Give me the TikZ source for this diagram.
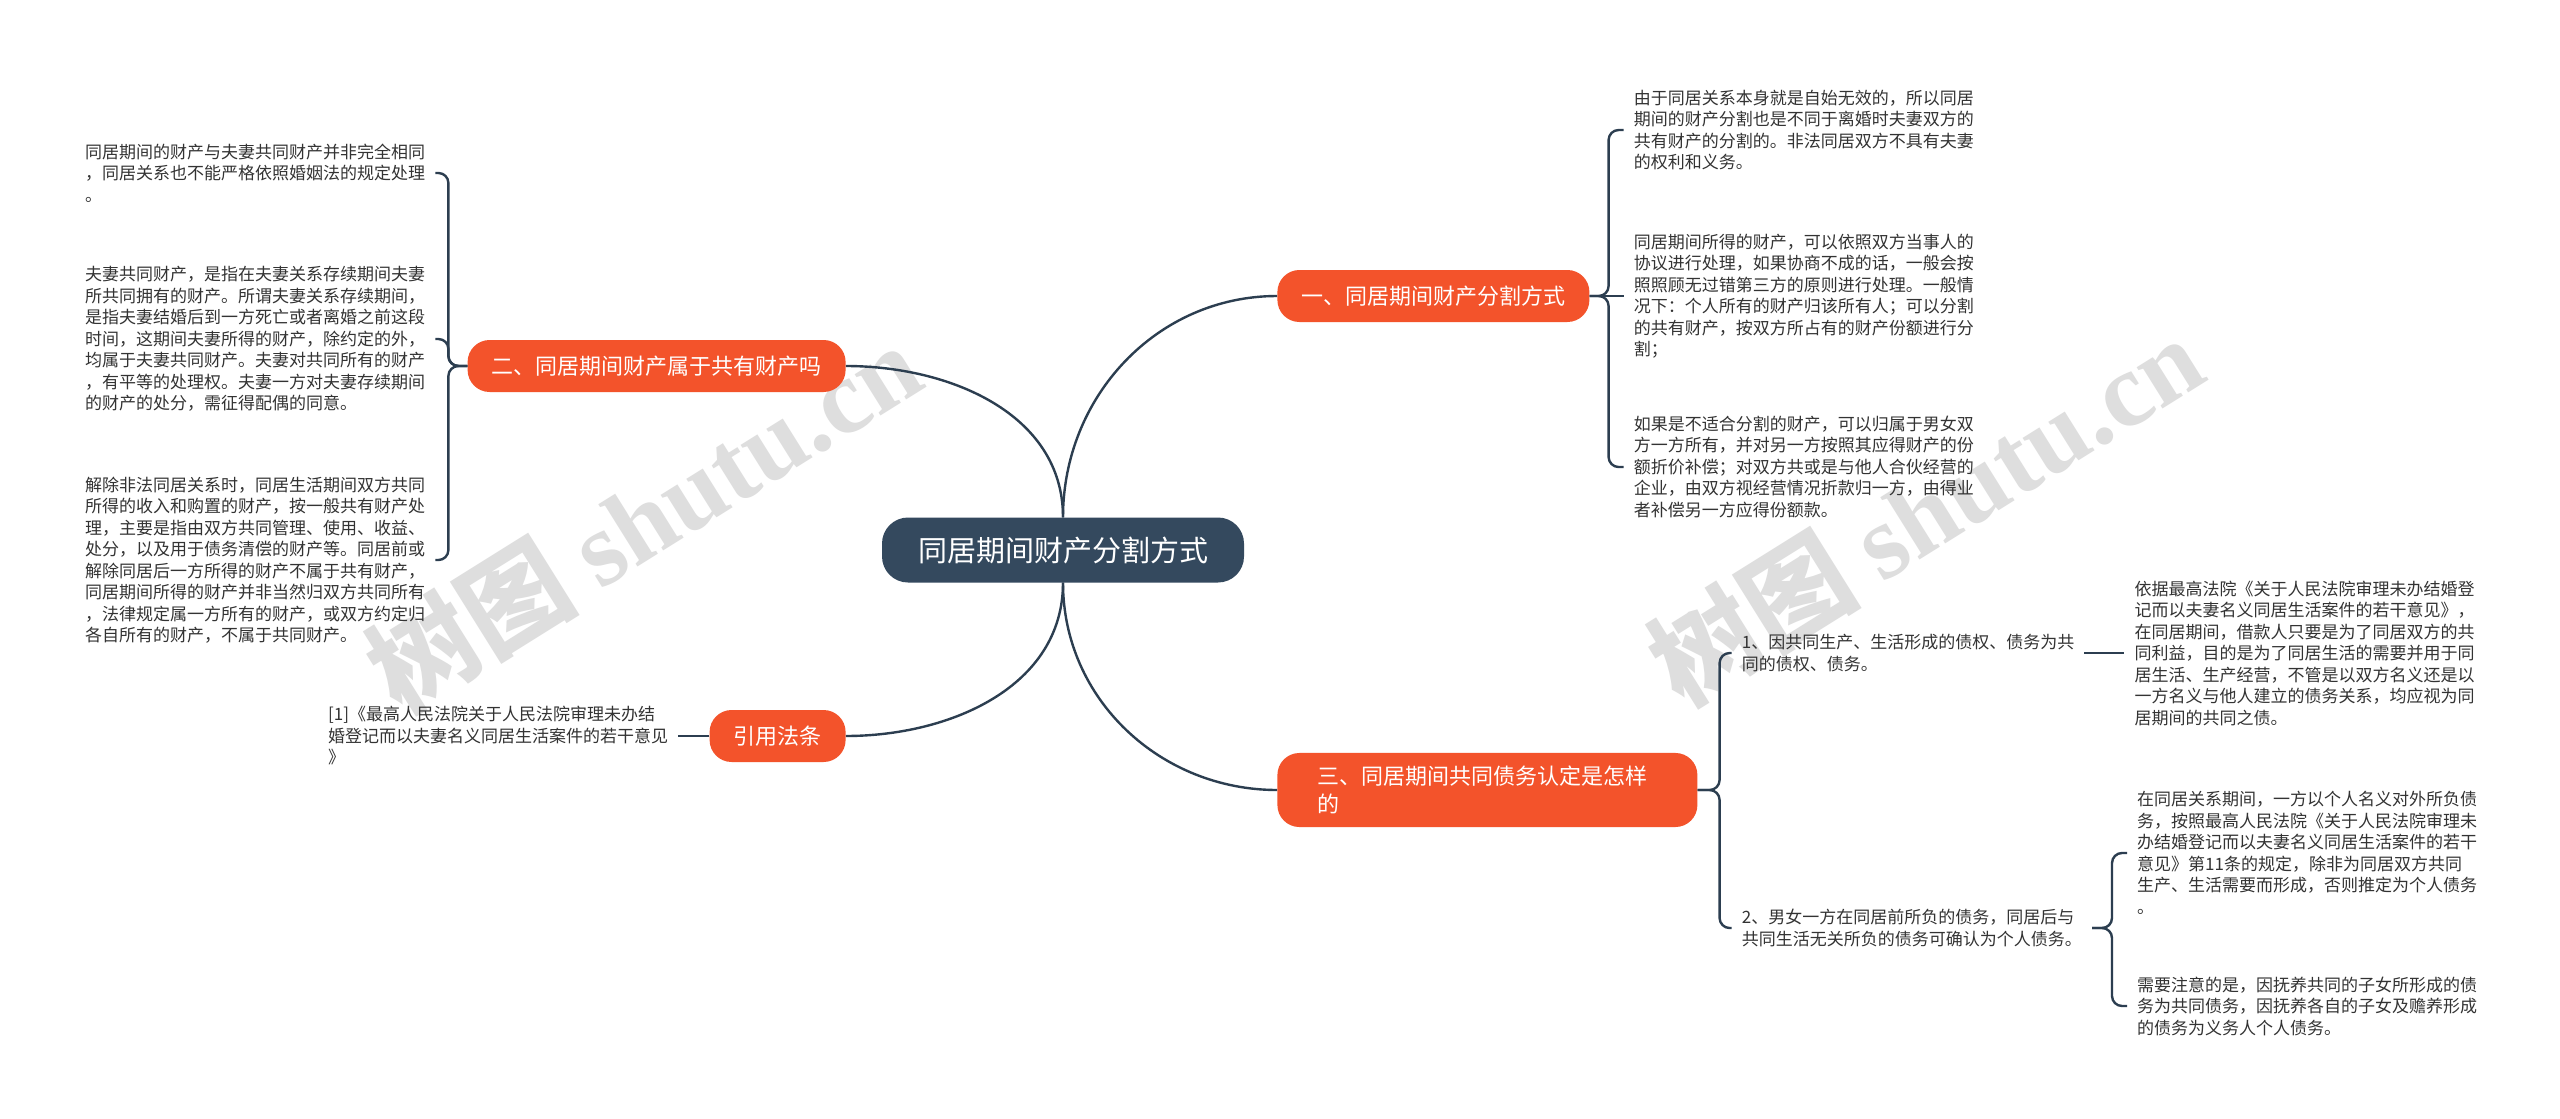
\documentclass[tikz,border=0pt]{standalone}
\usepackage{fontspec}
\usepackage{tikz}
\setmainfont{Noto Sans CJK SC}
\newfontfamily\wmlatin{Liberation Serif}
\usetikzlibrary{positioning}

\definecolor{rootc}{RGB}{52,73,94}
\definecolor{branchc}{RGB}{243,83,43}
\definecolor{linec}{RGB}{44,62,80}
\definecolor{leaftext}{RGB}{51,51,51}

\begin{document}
\begin{tikzpicture}[x=1pt,y=-1pt,node distance=33pt,
	hook/.style={to path={-- ++(#1,0) |- (\tikztotarget)},rounded corners=10pt},
	every edge/.append style={draw=linec,line width=2.4pt}]
	
	\tikzstyle{root}=[fill=rootc,text=white,rounded corners=26pt,minimum height=65pt,inner xsep=36pt,font=\fontsize{29}{35}\selectfont]
	\tikzstyle{branch}=[fill=branchc,text=white,rounded corners=22pt,minimum height=52pt,inner xsep=24pt,font=\fontsize{22}{28}\selectfont]
	\tikzstyle{leaf}=[text=leaftext,align=left,inner xsep=10pt,inner ysep=4pt,font=\fontsize{17}{21.5}\selectfont]
	\tikzstyle{watermark}=[text=black!13,font=\fontsize{106}{120}\selectfont\bfseries,rotate=32]
	
	\fill[white] (0,0) rectangle (2560,1119);
	
	\node (wm1) [watermark] at (643,517) {树图 {\wmlatin\bfseries shutu.cn}};
	\node (wm2) [watermark] at (1925,510) {树图 {\wmlatin\bfseries shutu.cn}};
	
	\node (cn) [root] at (1063,550) {同居期间财产分割方式};
	\node (b1) [branch, right=33pt of cn, yshift=254pt] {一、同居期间财产分割方式};
	\node (b2) [branch, left=36pt of cn, yshift=184pt]  {二、同居期间财产属于共有财产吗};
	\node (b3) [branch, right=33pt of cn, yshift=-240pt, text width=340pt, inner xsep=40pt, inner ysep=13pt, align=left] {三、同居期间共同债务认定是怎样\\的};
	\node (b4) [branch, left=36pt of cn, yshift=-186pt] {引用法条};
	
	\node (l1) [leaf, left=32pt of b2, yshift=193pt]  {同居期间的财产与夫妻共同财产并非完全相同\\，同居关系也不能严格依照婚姻法的规定处理\\。};
	\node (l2) [leaf, left=32pt of b2, yshift=27pt]   {夫妻共同财产，是指在夫妻关系存续期间夫妻\\所共同拥有的财产。所谓夫妻关系存续期间，\\是指夫妻结婚后到一方死亡或者离婚之前这段\\时间，这期间夫妻所得的财产，除约定的外，\\均属于夫妻共同财产。夫妻对共同所有的财产\\，有平等的处理权。夫妻一方对夫妻存续期间\\的财产的处分，需征得配偶的同意。};
	\node (l3) [leaf, left=32pt of b2, yshift=-194pt] {解除非法同居关系时，同居生活期间双方共同\\所得的收入和购置的财产，按一般共有财产处\\理，主要是指由双方共同管理、使用、收益、\\处分，以及用于债务清偿的财产等。同居前或\\解除同居后一方所得的财产不属于共有财产，\\同居期间所得的财产并非当然归双方共同所有\\，法律规定属一方所有的财产，或双方约定归\\各自所有的财产，不属于共同财产。};
	\node (q1) [leaf, left=31pt of b4] {[1]《最高人民法院关于人民法院审理未办结\\婚登记而以夫妻名义同居生活案件的若干意见\\》};
	
	\node (r1) [leaf, right=34pt of b1, yshift=166pt]  {由于同居关系本身就是自始无效的，所以同居\\期间的财产分割也是不同于离婚时夫妻双方的\\共有财产的分割的。非法同居双方不具有夫妻\\的权利和义务。};
	\node (r2) [leaf, right=34pt of b1]                {同居期间所得的财产，可以依照双方当事人的\\协议进行处理，如果协商不成的话，一般会按\\照照顾无过错第三方的原则进行处理。一般情\\况下：个人所有的财产归该所有人；可以分割\\的共有财产，按双方所占有的财产份额进行分\\割；};
	\node (r3) [leaf, right=34pt of b1, yshift=-171pt] {如果是不适合分割的财产，可以归属于男女双\\方一方所有，并对另一方按照其应得财产的份\\额折价补偿；对双方共或是与他人合伙经营的\\企业，由双方视经营情况折款归一方，由得业\\者补偿另一方应得份额款。};
	
	\node (s1) [leaf, right=34pt of b3, yshift=137pt]  {1、因共同生产、生活形成的债权、债务为共\\同的债权、债务。};
	\node (s2) [leaf, right=34pt of b3, yshift=-138pt] {2、男女一方在同居前所负的债务，同居后与\\共同生活无关所负的债务可确认为个人债务。};
	\node (t1) [leaf, right=40pt of s1]                {依据最高法院《关于人民法院审理未办结婚登\\记而以夫妻名义同居生活案件的若干意见》，\\在同居期间，借款人只要是为了同居双方的共\\同利益，目的是为了同居生活的需要并用于同\\居生活、生产经营，不管是以双方名义还是以\\一方名义与他人建立的债务关系，均应视为同\\居期间的共同之债。};
	\node (t2) [leaf, right=35pt of s2, yshift=75pt]   {在同居关系期间，一方以个人名义对外所负债\\务，按照最高人民法院《关于人民法院审理未\\办结婚登记而以夫妻名义同居生活案件的若干\\意见》第11条的规定，除非为同居双方共同\\生产、生活需要而形成，否则推定为个人债务\\。};
	\node (t3) [leaf, right=35pt of s2, yshift=-78pt]  {需要注意的是，因抚养共同的子女所形成的债\\务为共同债务，因抚养各自的子女及赡养形成\\的债务为义务人个人债务。};
	
	\path (cn.north) edge [out=90,in=180] (b1.west)
	(cn.north) edge [out=90,in=0] (b2.east)
	(cn.south) edge [out=-90,in=180] (b3.west)
	(cn.south) edge [out=-90,in=0] (b4.east);
	
	\path (b2.west) edge [hook=-19] (l1.east)
	edge [hook=-19] (l2.east)
	edge [hook=-19] (l3.east)
	(b4.west) edge (q1.east)
	(b1.east) edge [hook=19] (r1.west)
	edge (r2.west)
	edge [hook=19] (r3.west)
	(b3.east) edge [hook=22] (s1.west)
	edge [hook=22] (s2.west)
	(s1.east) edge (t1.west)
	(s2.east) edge [hook=20] (t2.west)
	edge [hook=20] (t3.west);
\end{tikzpicture}
\end{document}
